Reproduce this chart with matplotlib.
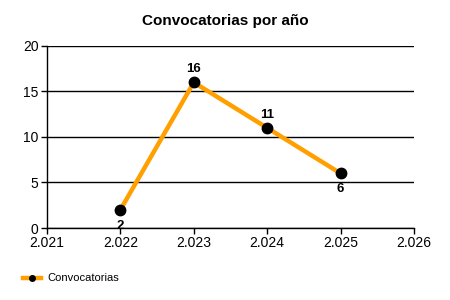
import matplotlib
matplotlib.use("Agg")
import matplotlib.pyplot as plt

plt.rcParams['font.family'] = ['Liberation Sans', 'DejaVu Sans']

years = [2022, 2023, 2024, 2025]
counts = [2, 16, 11, 6]
x_ticks = [2021, 2022, 2023, 2024, 2025, 2026]
x_labels = ["2.021", "2.022", "2.023", "2.024", "2.025", "2.026"]
y_ticks = [0, 5, 10, 15, 20]

fig = plt.figure(figsize=(4.5, 3), dpi=100)
ax = fig.add_axes([0.1044, 0.24, 0.8156, 0.6067])

line, = ax.plot(years, counts, color="#FFA000", linewidth=3.2, marker="o",
                markersize=7.5, markerfacecolor="black", markeredgecolor="black",
                label="Convocatorias", zorder=3, clip_on=False)

# etiquetas de valores: arriba o abajo del punto
for i, (x, y) in enumerate(zip(years, counts)):
    if i == 0 or i == len(years) - 1:
        ax.annotate(str(y), (x, y), xytext=(0, -7), textcoords="offset points",
                    ha="center", va="top", fontsize=9.5, fontweight="bold")
    else:
        ax.annotate(str(y), (x, y), xytext=(0, 5), textcoords="offset points",
                    ha="center", va="bottom", fontsize=9.5, fontweight="bold")

ax.set_xlim(2021, 2026)
ax.set_ylim(0, 20)
ax.set_xticks(x_ticks)
ax.set_xticklabels(x_labels)
ax.set_yticks(y_ticks)
ax.tick_params(labelsize=10, length=4, width=1, color="black", pad=2)
ax.yaxis.grid(True, color="black", linewidth=1)
ax.set_axisbelow(True)
for s in ["top", "right"]:
    ax.spines[s].set_visible(False)
for s in ["left", "bottom"]:
    ax.spines[s].set_linewidth(1)

fig.suptitle("Convocatorias por año", x=0.5, y=0.955, fontsize=11, fontweight="bold")

leg_line = plt.Line2D([], [], color="#FFA000", linewidth=3.2, marker="o",
                      markersize=4, markerfacecolor="black", markeredgecolor="black")
fig.legend([leg_line], ["Convocatorias"], loc="center left",
           bbox_to_anchor=(0.05, 0.072), frameon=False, fontsize=8,
           handlelength=1.7, handletextpad=0.5, borderpad=0, borderaxespad=0)

fig.savefig("out.png", dpi=100)
